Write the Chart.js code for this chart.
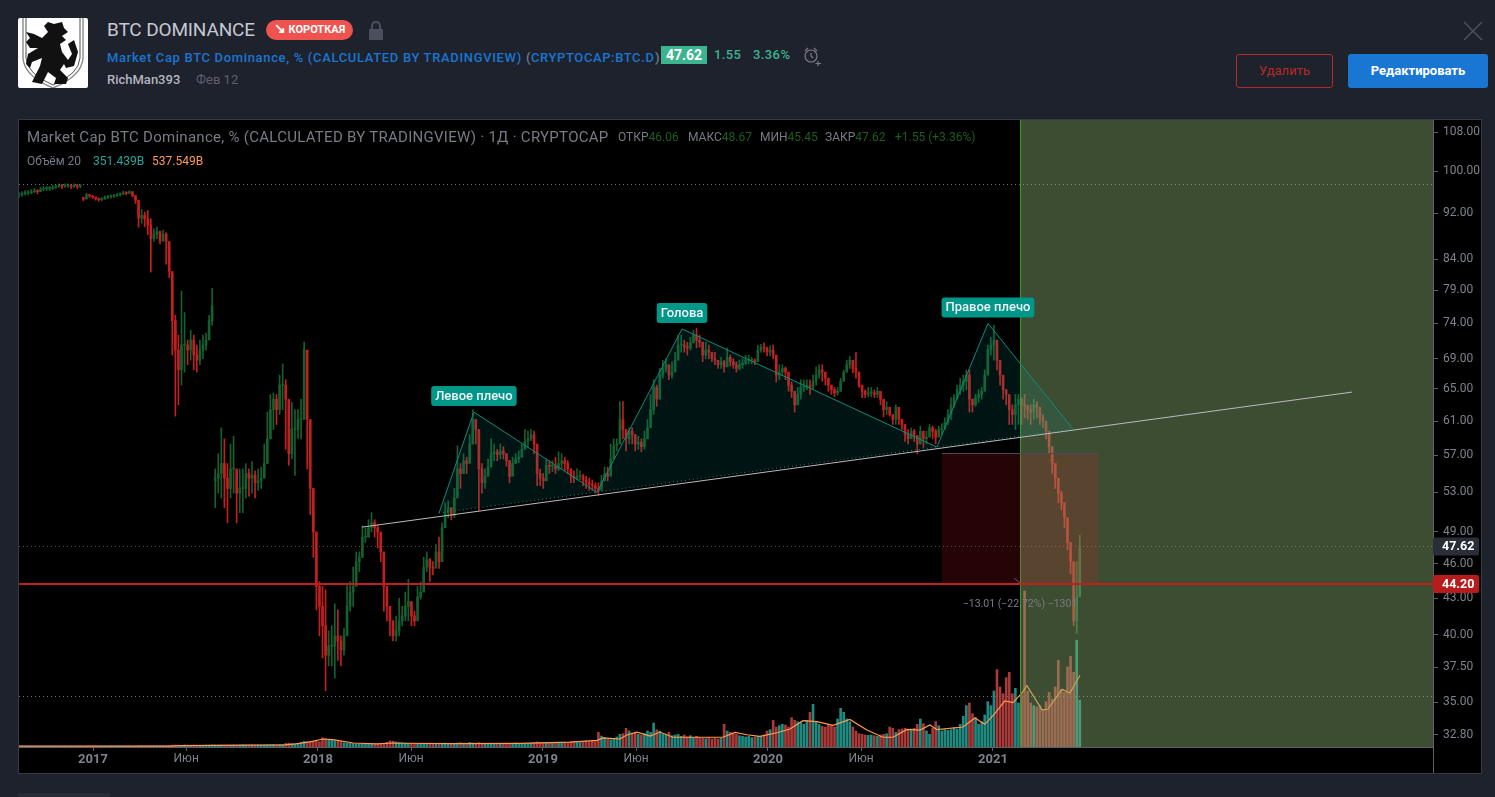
<!DOCTYPE html>
<html>
<head>
<meta charset="utf-8">
<title>BTC DOMINANCE</title>
<script src="https://cdn.jsdelivr.net/npm/chart.js@4"></script>
<style>
html, body { margin: 0; padding: 0; width: 1495px; height: 797px; overflow: hidden; background: #1e222d; font-family: Roboto, sans-serif; }
.abs { position: absolute; white-space: nowrap; }
#panel { position: absolute; left: 18px; top: 119px; width: 1462px; height: 653px; background: #000; border: 1px solid #363a45; }
#chart { position: absolute; left: 0; top: 0; }
.blue { color: #1976d2; }
.grn { color: #1b5e20; }
.lbl { color: #787b86; }
</style>
</head>
<body>

<svg class="abs" style="left:18px;top:18px" width="70" height="70" viewBox="0 0 70 70">
  <rect width="70" height="70" rx="2" fill="#fff"/>
  <path d="M5 0 V40 Q6 58 35 70 Q64 58 65 40 V0" fill="none" stroke="#8a8a8a" stroke-width="1.4"/>
  <path d="M8 0 V40 Q9 56 35 67 Q61 56 62 40 V0" fill="none" stroke="#222" stroke-width="0.8"/>
  <path d="M30 4 L36 6 L44 4 L46 10 L50 14 L44 18 L48 22 L42 26 L44 34 L50 42 L54 36 L50 26 L56 22 L60 34 L56 48 L48 50 L46 46 L42 52 L50 60 L48 66 L36 66 L38 60 L30 54 L24 66 L14 64 L18 56 L22 48 L24 40 L14 44 L12 50 L8 46 L10 36 L20 30 L12 30 L8 24 L12 20 L8 14 L16 16 L24 20 L30 14 L26 8 Z" fill="#111"/>
</svg>

<div class="abs" style="left:107px;top:18px;font-size:19px;letter-spacing:-0.15px;color:#c5c8d0">BTC DOMINANCE</div>
<div class="abs" style="left:266px;top:20px;width:87px;height:20px;border-radius:10px;background:#ef5350;color:#fff;font-size:11px;font-weight:700;line-height:20px;text-align:center"><span style="font-size:14px;line-height:14px">↘</span> КОРОТКАЯ</div>
<svg class="abs" style="left:368px;top:21px" width="16" height="19" viewBox="0 0 16 19">
  <path d="M4 9 V5 a4 4 0 0 1 8 0 V9" fill="none" stroke="#4a4f5c" stroke-width="2"/>
  <rect x="1" y="8" width="14" height="11" rx="1" fill="#4a4f5c"/>
</svg>

<div class="abs blue" style="left:107px;top:50px;font-size:13px;font-weight:500;letter-spacing:0.66px">Market Cap BTC Dominance, % (CALCULATED BY TRADINGVIEW)</div>
<div class="abs" style="left:526px;top:50px;font-size:13px;font-weight:500;color:#787b86">(</div>
<div class="abs blue" style="left:531px;top:50px;font-size:13px;font-weight:500;letter-spacing:0.6px">CRYPTOCAP:BTC.D</div>
<div class="abs" style="left:655px;top:50px;font-size:13px;font-weight:500;color:#787b86">)</div>
<div class="abs" style="left:661px;top:46px;width:46px;height:18px;background:#3bb48f;color:#fff;font-size:14px;font-weight:700;line-height:18px;text-align:center">47.62</div>
<div class="abs" style="left:714px;top:47px;font-size:13px;font-weight:500;letter-spacing:0.4px;color:#3bb48f">1.55</div>
<div class="abs" style="left:753px;top:47px;font-size:13px;font-weight:500;letter-spacing:0.4px;color:#3bb48f">3.36%</div>
<svg class="abs" style="left:803px;top:46px" width="20" height="20" viewBox="0 0 20 20" fill="none" stroke="#787b86" stroke-width="1.2">
  <circle cx="8" cy="10" r="6"/><path d="M8 7 V10 L10 12 M2 5 L5 2 M11 2 L14 5 M15 15 V20 M12.500 17.500 H18"/>
</svg>
<div class="abs" style="left:107px;top:72px;font-size:13px;font-weight:500;color:#b2b5be">RichMan393</div>
<div class="abs" style="left:196px;top:72px;font-size:13px;color:#5d606b">Фев 12</div>

<svg class="abs" style="left:1463px;top:21px" width="20" height="20" viewBox="0 0 20 20"><path d="M1 1 L19 19 M19 1 L1 19" stroke="#4a4f5c" stroke-width="1.6"/></svg>
<div class="abs" style="left:1236px;top:54px;width:95px;height:32px;border:1px solid #b32a2a;border-radius:3px;color:#b32a2a;font-size:13px;line-height:32px;text-align:center">Удалить</div>
<div class="abs" style="left:1348px;top:54px;width:140px;height:34px;background:#1976d2;border-radius:3px;color:#fff;font-size:13px;font-weight:700;line-height:34px;text-align:center">Редактировать</div>

<div id="panel"><canvas id="chart" width="1461" height="653"></canvas></div>

<div class="abs" style="left:27px;top:128px;font-size:15px;letter-spacing:0.28px;color:#787b86">Market Cap BTC Dominance, % (CALCULATED BY TRADINGVIEW) · 1Д · CRYPTOCAP</div>
<div class="abs" style="left:618px;top:130px;font-size:12px"><span class="lbl">ОТКР</span><span class="grn">46.06</span></div>
<div class="abs" style="left:688px;top:130px;font-size:12px"><span class="lbl">МАКС</span><span class="grn">48.67</span></div>
<div class="abs" style="left:760px;top:130px;font-size:12px"><span class="lbl">МИН</span><span class="grn">45.45</span></div>
<div class="abs" style="left:825px;top:130px;font-size:12px"><span class="lbl">ЗАКР</span><span class="grn">47.62</span></div>
<div class="abs grn" style="left:895px;top:130px;font-size:12px">+1.55 (+3.36%)</div>
<div class="abs" style="left:27px;top:154px;font-size:12px;color:#787b86">Объём 20</div>
<div class="abs" style="left:93px;top:154px;font-size:12px;color:#26a69a">351.439B</div>
<div class="abs" style="left:152px;top:154px;font-size:12px;color:#ff9850">537.549B</div>

<div class="abs" style="left:18px;top:793px;width:92px;height:4px;background:#272b36"></div>

<script>
// candles are one every five days or so, left to right
var firstYear = 2016.671;
var yearStep = 0.013627;

var closes = [
    95.4,95.6,95.8,95.8,96,96.2,96,96.4,96.6,96.6,
    96.6,96.8,97,97.2,97,97.2,97.2,97,97.2,97,
    97.1,94.6,95.4,95.2,95,94.7,94.5,94.6,94.9,95,
    95.1,95.2,95.4,95.5,95.8,95.7,96,95.3,94.4,91.1,
    91.6,91,89.9,87.5,88.3,88.7,87.1,88.3,87,82,
    74.4,70.2,67.5,70.9,70.9,70.2,71.6,69.5,68.8,70.2,
    70.9,71.6,74.4,76.6,54.5,55,56.1,54.5,53.4,55.5,
    55.5,52.9,53.4,53.4,55,54.5,54.8,54,54.2,54.5,
    56.1,58.9,62.4,63.7,62.4,65.5,65.5,63.7,57.2,60,
    60,61.2,61.2,70.2,61.2,53.4,49,44,42.3,40.7,
    38.4,39.1,39.1,39.9,39.5,38.8,39.9,42.3,43.5,44,
    46.2,46.6,48.5,48.5,49.4,49.9,49.4,49,47.1,44,
    42.3,41.1,39.9,40.3,41.1,41.5,42.3,42.7,41.5,41.1,
    43.1,43.5,45.7,46.4,45.7,45.6,47.1,46.2,49.4,50.9,
    51.4,50.6,52.4,55.5,55,56.4,56.1,58.3,61.2,60,
    55.5,54,54.7,55.7,57.2,57.4,57.1,57.5,57.2,56.4,
    54.7,56.1,56.6,56.8,57.7,58.6,58.9,59.4,58.3,55,
    54.5,54.2,55.9,55.8,55.8,55.5,56.1,56.4,56.1,55.5,
    54.7,54.5,54.7,54.7,54.3,54,53.8,53.7,53.4,53.2,
    54.2,55,54.7,56.6,58.1,58.3,61.2,60,58.9,59.8,
    59.4,58.3,58.5,58,58.9,60.2,62.4,65.2,63.7,66.8,
    67.7,68.2,66.8,67.2,68.8,70.9,70.9,70.6,70.5,71.2,
    72.3,71.6,71.3,69.5,70.2,69.9,69,68.8,68.2,68.6,
    67.9,69.2,68.6,68.2,67.7,68.2,68.4,68.8,68.8,68.8,
    68.6,70.2,70.6,70.5,69.9,70.2,69.5,66.8,67.2,67.7,
    67.2,65.5,64.7,63,64.3,65.2,65.3,65.5,65.2,66,
    66.8,67.5,67.2,66.4,65.5,64.9,64.5,64.7,66,67.2,
    68.2,68.8,67.7,67.2,65.5,64.7,64.3,64.5,64.5,64.3,
    64.7,63.7,62.4,62.7,61.8,61.2,62.7,61.2,60.6,59.4,
    58.9,59.8,59.3,58.3,59.8,58.9,59.1,60.2,59.8,59.1,
    60,60.2,60.9,61.8,63,63.9,64.9,65.5,66,66.8,
    63.7,63,63.9,64.3,64.7,66.8,70.2,70.9,71.6,68.8,
    66.8,64.9,64.3,62.4,61.8,63,63.7,63,62.8,62.4,
    62.1,63,62.7,61.4,61,59.8,58,56.1,54.5,52.9,
    51.9,50.4,48,46.2,41.1,43.1,47.62
];
var highs = [
    95.9,96,96.2,96.2,96.4,96.6,96.4,96.8,97,97,
    97,97.2,97.3,97.5,97.4,97.5,97.5,97.4,97.5,97.4,
    97.4,94.9,95.7,95.5,95.3,95,94.8,94.9,95.2,95.3,
    95.4,95.5,95.7,95.8,96.1,96,96.2,96,95.3,94.4,
    92.7,92.2,92.5,91,89.2,89.5,88.8,89,88.5,85.9,
    81.7,75.2,72.3,78.9,75.6,71.6,73,72.3,70.9,71.6,
    72.3,72.6,75.2,79.3,55.5,57.2,60.2,58.9,56.1,58.3,
    59.2,54.5,55.5,55.5,56.1,55.5,56.3,55.3,55.5,55.7,
    58.3,62.1,64.3,64.5,64.3,66.8,68.3,66.2,60,63.3,
    62.4,62.4,63.7,71.3,68.8,57.2,51.1,47.5,44.4,44,
    43.7,40.3,40.7,42.5,42,39.9,40.5,44.2,44.4,45.7,
    47.1,47.1,49.6,49.4,50.2,50.9,50.2,49.7,48.5,46.6,
    43.5,42.3,41.1,41.5,43,42.3,43.5,44.6,42.3,41.9,
    44,44.4,46.6,47.1,46.5,46.2,47.8,48.5,49.9,51.9,
    52.1,51.4,53.4,58.1,56.1,57.2,56.8,59.4,62.4,61.2,
    58.9,56.1,55.5,56.6,58.9,58.3,57.7,58.3,58,57.2,
    56.4,56.8,57.2,57.5,58.3,60,59.8,60,59.8,56.6,
    55.5,55,56.6,56.4,56.4,56.8,57.4,57.2,56.8,56.4,
    55.5,55.3,55.5,55.3,54.9,54.7,54.5,54.3,54,54,
    54.8,55.7,55.7,58.3,58.9,58.9,63.4,63.4,60,60.2,
    60.2,59.4,59.2,58.9,59.8,61.2,64.3,66.2,65.5,67.7,
    68.8,69,67.7,68.6,69.9,72.3,72.3,71.6,71.3,72,
    73,73.3,72.3,70.9,71.3,70.9,69.9,69.9,68.8,69.2,
    68.8,70.5,69.5,69,68.6,68.8,69,69.5,69.5,69.2,
    69,70.9,71,71.2,70.6,70.8,70.9,69.5,68.2,68.2,
    67.9,66.8,65.9,64.5,65.2,66.2,66.2,66.2,66.2,66.8,
    67.9,68.2,68.2,67.2,66.4,65.5,65.2,65.2,66.4,67.5,
    68.8,69.3,68.6,69.9,67.2,65.5,64.9,65.2,65.2,64.9,
    65.2,64.7,63.7,63.4,62.4,61.6,63,62.4,61.2,60.2,
    60,60.2,60,59.2,60.4,59.4,59.8,60.6,60.4,60,
    60.4,60.7,61.4,62.4,63.9,64.3,65.5,66.4,66.8,67.5,
    67.5,63.7,64.3,64.9,65.2,67.5,70.9,72,73.7,70.2,
    68.2,66.2,64.9,63.7,63,64.3,64.3,63.9,64.3,63,
    63,63.7,63.4,62.4,61.8,60.6,59.4,57.4,55.5,54,
    53.1,51.2,49.8,46.9,44.8,46.2,48.67
];
var lows = [
    94.9,95.1,95.4,95.4,95.6,95.8,95.6,96,96.2,96.2,
    96.2,96.4,96.6,96.8,96.6,96.8,96.8,96.6,96.8,96.6,
    96.7,94.3,94.8,94.9,94.7,94.4,94.2,94.3,94.6,94.7,
    94.8,94.9,95.1,95.2,95.5,95.4,95.6,95,93.8,89.5,
    90.2,89.6,88.2,81.9,87,87.5,86.6,87,83.2,81,
    69.5,61.6,63,65.5,67.2,68.2,68.8,67.5,67.2,68.2,
    69,70.2,72.3,73.7,51.4,52.9,52.4,51.4,49.9,52.4,
    52.9,49.9,50.9,50.9,52.4,52.6,52.9,52.4,53.2,53.4,
    54.5,56.1,58.9,60,60.6,61.8,62.4,57.7,55.9,56.6,
    54.8,58.9,58.9,63.9,55.5,50.7,46.6,42,39.9,38.2,
    35.8,37.6,37.6,36.7,38,37.6,38.4,41.1,41.9,42.3,
    45,45.3,46.6,48,48.5,49,48.5,47.5,46.2,41.9,
    41.1,39.9,39.5,39.5,39.9,40.7,41.1,41.1,40.7,40.7,
    42.3,42.9,44,45.3,44.4,45,46,45.6,48,49.9,
    50.4,50.2,50.4,53.4,53.4,55,55,56.6,58.3,58.3,
    51.1,52.9,53.4,54.7,56.4,56.4,56.4,56.6,56.6,55.8,
    54,55.3,56.1,56.2,56.8,57.7,57.9,58.7,57.2,53.7,
    53.7,53.4,55,55,55.2,55,55.3,55.5,55.3,55,
    54,54,54.3,54.3,53.7,53.4,53.2,53.2,52.9,52.7,
    53.4,54.5,54.2,55.3,56.8,57.5,58.3,58.9,57.5,58.3,
    58.3,57.5,57.7,57.4,57.7,59.4,61.2,61.8,62.8,65.2,
    66.4,67.2,66.2,66.4,67.5,69,69.9,69.9,69.5,70.2,
    71.3,70.5,70.6,68.6,69,69,68.6,68.2,67.7,67.7,
    67.2,68.2,68,67.7,67.2,67.5,67.7,68.2,68.3,68.3,
    68.2,69,69.9,69.9,69.4,69.4,69,65.9,66.2,66.8,
    66.2,64.7,63.9,62.1,63,63.7,64.7,64.9,64.3,64.9,
    65.5,66.4,66,65.5,64.7,64.3,64,64.2,64.7,66.2,
    67.2,67.7,67.1,66.4,65.2,63.9,63.9,64,64,63.9,
    63.9,63,61.5,61.8,61.6,60.6,60.6,60.6,60,58.6,
    58.3,59.2,58.6,57.2,58.3,57.9,58.3,59.1,58.9,58.3,
    59.1,59.4,60,60.6,61.2,62.7,63.7,64.3,64.7,64.9,
    62.1,62.1,62.8,63.3,63.7,64.9,68.2,69.5,68.8,67.5,
    65.5,63.7,63,60.6,60.6,60,60.6,60.6,61.4,61.2,
    60.6,61.2,61.4,60.6,60.2,58.9,57.2,55,53.4,51.9,
    51.2,49.4,47.3,45.1,40.7,40.1,43.1
];
// the feed jumps at these candles, so they open on their own level
var gapIndexes = [21, 64];
var gapOpens = [94.9, 54.2];

var volumes = [
    6,7,6,7,6,6,7,6,7,6,
    7,6,7,6,7,7,6,7,6,7,
    7,6,7,7,8,7,7,8,7,7,
    8,7,8,8,7,8,8,7,8,9,
    9,8,9,10,9,9,10,9,10,11,
    14,15,14,13,15,14,13,14,13,13,
    13,14,14,16,15,14,15,14,15,14,
    15,14,15,16,15,15,16,15,16,15,
    16,17,18,19,18,19,20,27,30,26,
    24,26,35,42,40,38,42,45,40,68,
    62,55,50,48,45,40,32,30,28,26,
    24,24,22,23,22,24,22,23,22,24,
    35,46,44,38,34,32,30,28,26,26,
    24,25,26,24,28,26,24,25,28,30,
    26,28,26,30,32,28,26,34,30,28,
    32,28,26,25,28,26,25,24,26,27,
    26,25,30,26,25,24,28,30,34,38,
    34,32,30,28,30,34,32,30,36,32,
    38,42,36,34,38,44,40,46,42,110,
    82,72,60,55,65,75,95,100,140,120,
    105,112,95,90,100,120,110,180,130,120,
    100,95,110,85,90,95,80,90,75,85,
    70,80,70,65,62,70,60,65,60,65,
    170,120,110,100,95,85,80,75,80,70,
    75,80,78,90,120,130,200,150,160,170,
    165,150,220,200,190,180,170,200,260,320,
    190,170,155,150,170,160,150,210,290,260,
    210,190,150,120,100,95,90,88,90,85,
    80,90,95,100,150,140,110,130,135,140,
    125,135,140,170,210,175,120,95,140,190,
    160,120,130,125,130,145,135,170,230,310,
    330,250,220,170,190,240,340,310,420,580,
    450,400,520,560,400,440,330,390,1170,420,
    330,310,300,310,280,340,410,360,450,650,
    430,410,600,680,560,800,351.4
];

var maYears = [2016.671,2017.342,2017.387,2017.853,2017.902,2017.964,2018.022,2018.067,2018.156,2018.262,2018.329,2018.378,2018.587,2018.898,2019.12,2019.24,2019.267,2019.298,2019.342,2019.373,2019.418,2019.476,2019.52,2019.578,2019.698,2019.8,2019.853,2019.907,2019.964,2020.04,2020.098,2020.156,2020.218,2020.289,2020.364,2020.44,2020.511,2020.556,2020.618,2020.676,2020.72,2020.751,2020.867,2020.92,2020.964,2021.009,2021.053,2021.089,2021.129,2021.151,2021.218,2021.244,2021.307,2021.342,2021.387];
var maValues = [7,7,11,16,24,38,60,55,30,23,30,28,25,27,36,50,68,65,60,90,112,82,112,73,73,73,110,92,80,107,135,197,190,162,207,127,73,73,132,127,165,130,150,218,170,252,345,332,405,460,278,283,432,405,537.5];

var priceTicks = [108, 100, 92, 84, 79, 74, 69, 65, 61, 57, 53, 49, 46, 43, 40, 37.5, 35, 32.8];
var timeTicks = [2017, 2017.414, 2018, 2018.414, 2019, 2019.414, 2020, 2020.414, 2021];
var timeLabels = ['2017', 'Июн', '2018', 'Июн', '2019', 'Июн', '2020', 'Июн', '2021'];

// head and shoulders drawing
var patternYears = [2018.538, 2018.693, 2019.24, 2019.618, 2020.751, 2020.978, 2021.356];
var patternPrices = [50.87, 62.1, 53, 73.2, 57.95, 74, 60.05];
var shoulderLabels = ['Левое плечо', 'Голова', 'Правое плечо'];
var shoulderPoints = [1, 3, 5];

var trendYears = [2018.196, 2022.596];
var trendPrices = [49.47, 64.6];

var highPrice = 97.4;
var lastPrice = 47.62;
var lowPrice = 35.4;
var stopPrice = 44.2;
var entryPrice = 57.21;
var shortYears = [2020.773, 2021.467];
var greenStartYear = 2021.12;
var shortText = '−13.01 (−22.72%) −1301';

var candleYears = closes.map(function (c, i) { return firstYear + i * yearStep; });
var opens = closes.map(function (c, i) {
    var g = gapIndexes.indexOf(i);
    if (g >= 0) return gapOpens[g];
    return i == 0 ? c : closes[i - 1];
});

var upColor = '#14602f', downColor = '#c41f1f';
var candleColors = closes.map(function (c, i) { return c >= opens[i] ? upColor : downColor; });
var volumeColors = closes.map(function (c, i) { return c >= opens[i] ? '#1f8a80' : '#a93a3a'; });

var wickData = candleYears.map(function (y, i) { return { x: y, y: [lows[i], highs[i]] }; });
var bodyData = candleYears.map(function (y, i) { return { x: y, y: [opens[i], closes[i]] }; });
var volumeData = candleYears.map(function (y, i) { return { x: y, y: volumes[i] }; });
var maData = maYears.map(function (y, i) { return { x: y, y: maValues[i] }; });

function dottedLine(ctx, area, y, color) {
    ctx.save();
    ctx.strokeStyle = color;
    ctx.lineWidth = 1;
    ctx.setLineDash([1, 3]);
    ctx.beginPath();
    ctx.moveTo(area.left, Math.round(y) + 0.5);
    ctx.lineTo(area.right, Math.round(y) + 0.5);
    ctx.stroke();
    ctx.restore();
}

function priceTag(ctx, area, y, text, bg) {
    ctx.fillStyle = bg;
    ctx.beginPath();
    ctx.roundRect(area.right, y - 9, 46, 18, 2);
    ctx.fill();
    ctx.fillStyle = '#fff';
    ctx.font = '700 12.5px Roboto';
    ctx.textAlign = 'left';
    ctx.textBaseline = 'middle';
    ctx.fillText(text, area.right + 9, y + 0.5);
}

var overlayPlugin = {
    id: 'overlay',
    afterDatasetsDraw: function (chart) {
        var ctx = chart.ctx, area = chart.chartArea;
        var xs = chart.scales.x, ys = chart.scales.y;
        var px = function (v) { return xs.getPixelForValue(v); };
        var py = function (v) { return ys.getPixelForValue(v); };

        ctx.save();
        ctx.beginPath();
        ctx.rect(area.left, area.top, area.right - area.left, area.bottom - area.top);
        ctx.clip();

        dottedLine(ctx, area, py(highPrice), '#6d6f73');
        dottedLine(ctx, area, py(lastPrice), '#4a4c50');
        dottedLine(ctx, area, py(lowPrice), '#6d6f73');

        // long side of the position, open to the right edge
        var gx = Math.round(px(greenStartYear));
        ctx.fillStyle = 'rgba(136,171,111,0.45)';
        ctx.fillRect(gx + 1, area.top, area.right - gx - 1, area.bottom - area.top);
        ctx.fillStyle = '#3d9a2a';
        ctx.fillRect(gx, area.top, 1, area.bottom - area.top);

        // short side box
        var bx0 = px(shortYears[0]), bx1 = px(shortYears[1]);
        var by0 = py(entryPrice), by1 = py(stopPrice);
        ctx.fillStyle = 'rgba(253,30,35,0.15)';
        ctx.fillRect(bx0, by0, bx1 - bx0, by1 - by0);
        ctx.fillStyle = '#4a4a5a';
        ctx.fillRect(bx0, Math.round(by0) - 1, bx1 - bx0, 1);
        ctx.strokeStyle = '#5d606b';
        ctx.beginPath();
        ctx.moveTo(gx - 6, by1 - 6);
        ctx.lineTo(gx, by1 - 1);
        ctx.stroke();

        // pattern fill, dotted neckline, then the outline
        ctx.beginPath();
        patternYears.forEach(function (y, i) {
            if (i == 0) ctx.moveTo(px(y), py(patternPrices[i]));
            else ctx.lineTo(px(y), py(patternPrices[i]));
        });
        ctx.closePath();
        ctx.fillStyle = 'rgba(0,150,136,0.14)';
        ctx.fill();
        ctx.strokeStyle = '#0f8a7d';
        ctx.lineWidth = 1;
        ctx.beginPath();
        patternYears.forEach(function (y, i) {
            if (i == 0) ctx.moveTo(px(y), py(patternPrices[i]));
            else ctx.lineTo(px(y), py(patternPrices[i]));
        });
        ctx.stroke();
        ctx.setLineDash([1, 3]);
        ctx.beginPath();
        ctx.moveTo(px(patternYears[0]), py(patternPrices[0]));
        ctx.lineTo(px(patternYears[6]), py(patternPrices[6]));
        ctx.stroke();
        ctx.setLineDash([]);

        // neckline drawn by the author
        ctx.strokeStyle = '#b8bbc2';
        ctx.beginPath();
        ctx.moveTo(px(trendYears[0]), py(trendPrices[0]));
        ctx.lineTo(px(trendYears[1]), py(trendPrices[1]));
        ctx.stroke();

        // stop level
        ctx.fillStyle = '#c21e1e';
        ctx.fillRect(area.left, Math.round(py(stopPrice)) - 1, area.right - area.left, 2);

        ctx.fillStyle = '#787b86';
        ctx.font = '10.5px Roboto';
        ctx.textAlign = 'center';
        ctx.textBaseline = 'middle';
        ctx.fillText(shortText, gx, by1 + 20);

        shoulderLabels.forEach(function (text, i) {
            var k = shoulderPoints[i];
            var cx = px(patternYears[k]), top = py(patternPrices[k]);
            ctx.font = '500 13px Roboto';
            var w = ctx.measureText(text).width + 8;
            ctx.fillStyle = '#009688';
            ctx.beginPath();
            ctx.roundRect(cx - w / 2, top - 26, w, 20, 3);
            ctx.fill();
            ctx.fillStyle = '#f0f3fa';
            ctx.fillText(text, cx, top - 15.5);
        });
        ctx.restore();

        priceTag(ctx, area, py(lastPrice), lastPrice.toFixed(2), '#2a2e39');
        priceTag(ctx, area, py(stopPrice), stopPrice.toFixed(2), '#b71c1c');

        ctx.fillStyle = '#5d606b';
        ctx.fillRect(area.right, area.bottom, 1, chart.height - area.bottom);
    }
};

var chart = new Chart(document.getElementById('chart'), {
    type: 'bar',
    data: {
        datasets: [{
            type: 'line',
            data: maData,
            yAxisID: 'vol',
            borderColor: '#ff9a50',
            borderWidth: 1.2,
            pointRadius: 0,
            tension: 0,
            order: 1
        }, {
            data: bodyData,
            backgroundColor: candleColors,
            barThickness: 2,
            minBarLength: 1,
            order: 2
        }, {
            data: wickData,
            backgroundColor: candleColors,
            barThickness: 1,
            order: 3
        }, {
            data: volumeData,
            yAxisID: 'vol',
            backgroundColor: volumeColors,
            barThickness: 2,
            order: 4
        }]
    },
    options: {
        responsive: false,
        animation: false,
        events: [],
        grouped: false,
        layout: { autoPadding: false, padding: 0 },
        plugins: { legend: { display: false }, tooltip: { enabled: false } },
        scales: {
            x: {
                type: 'linear',
                offset: false,
                min: 2016.671,
                max: 2022.956,
                afterFit: function (axis) {
                    axis.height = 26;
                    axis.paddingLeft = 0;
                    axis.paddingRight = 0;
                },
                afterBuildTicks: function (axis) {
                    axis.ticks = timeTicks.map(function (v) { return { value: v }; });
                },
                border: { color: '#5d606b' },
                grid: { offset: false, drawOnChartArea: false, tickColor: '#5d606b', tickLength: 4 },
                ticks: {
                    autoSkip: false,
                    maxRotation: 0,
                    padding: 1,
                    color: '#7f828c',
                    font: function (c) {
                        return c.index % 2 == 0 ? { family: 'Roboto', size: 13, weight: '700' } : { family: 'Roboto', size: 12 };
                    },
                    callback: function (v, i) { return timeLabels[i]; }
                }
            },
            y: {
                type: 'logarithmic',
                position: 'right',
                min: 32.03,
                max: 110.62,
                afterFit: function (axis) {
                    axis.width = 47;
                    axis.paddingTop = 0;
                    axis.paddingBottom = 0;
                },
                afterBuildTicks: function (axis) {
                    axis.ticks = priceTicks.map(function (v) { return { value: v }; });
                },
                border: { color: '#5d606b' },
                grid: { drawOnChartArea: false, tickColor: '#5d606b', tickLength: 5 },
                ticks: {
                    autoSkip: false,
                    padding: 5,
                    color: '#7f828c',
                    font: { family: 'Roboto', size: 12 },
                    callback: function (v) { return Number(v).toFixed(2); }
                }
            },
            vol: {
                type: 'linear',
                display: false,
                min: 0,
                max: 4700
            }
        }
    },
    plugins: [overlayPlugin]
});
</script>
</body>
</html>
